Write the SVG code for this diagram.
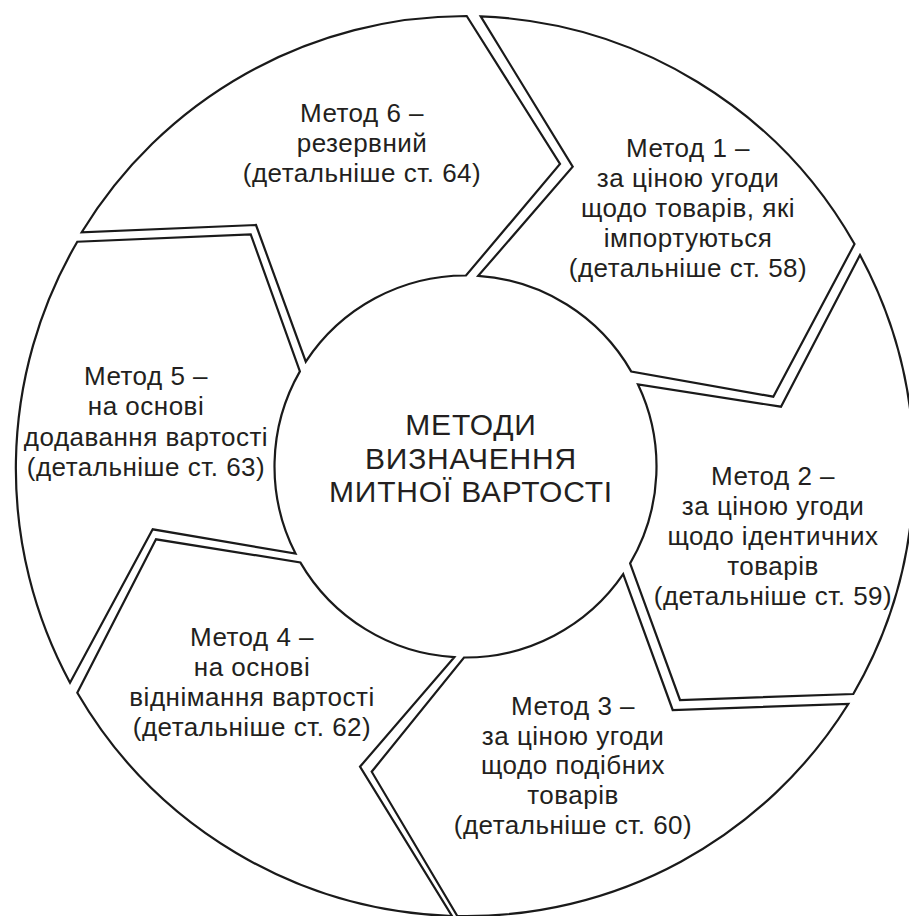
<svg xmlns="http://www.w3.org/2000/svg" width="909" height="916" viewBox="0 0 909 916">
<style>
.seg{fill:#ffffff;stroke:#1a1a1a;stroke-width:2.2;stroke-linejoin:miter}
.t{font-family:"Liberation Sans",Arial,sans-serif;font-size:26px;letter-spacing:0.5px;fill:#231f20;text-anchor:middle}
.c{font-family:"Liberation Sans",Arial,sans-serif;font-size:30px;letter-spacing:0.8px;fill:#231f20;text-anchor:middle}
</style>
<rect width="909" height="916" fill="#ffffff"/>
<g id="method1">
<path class="seg" d="M480.7,16.4 A450,450 0 0 1 854.5,244 L773.3,396.7 L631.3,371.6 A191,191 0 0 0 478.2,275.9 L572.7,166.7 Z"/>
<text class="t"><tspan x="688" y="157">Метод 1 –</tspan><tspan x="688" y="187">за ціною угоди</tspan><tspan x="688" y="217">щодо товарів, які</tspan><tspan x="688" y="247">імпортуються</tspan><tspan x="688" y="277">(детальніше ст. 58)</tspan></text>
</g>
<g id="method2">
<path class="seg" d="M860,255 A450,450 0 0 1 853.3,694 L680,700 L630.1,563.4 A191,191 0 0 0 638,384.5 L781,406.7 Z"/>
<text class="t"><tspan x="773" y="485">Метод 2 –</tspan><tspan x="773" y="515">за ціною угоди</tspan><tspan x="773" y="545">щодо ідентичних</tspan><tspan x="773" y="575">товарів</tspan><tspan x="773" y="605">(детальніше ст. 59)</tspan></text>
</g>
<g id="method3">
<path class="seg" d="M848.3,704 A450,450 0 0 1 457.3,916 L371.7,771.7 L464,657.5 A191,191 0 0 0 623.2,574.2 L672.7,710 Z"/>
<text class="t"><tspan x="573" y="715">Метод 3 –</tspan><tspan x="573" y="744.5">за ціною угоди</tspan><tspan x="573" y="774">щодо подібних</tspan><tspan x="573" y="804">товарів</tspan><tspan x="573" y="834">(детальніше ст. 60)</tspan></text>
</g>
<g id="method4">
<path class="seg" d="M452,916 A450,450 0 0 1 77.3,692.7 L156,539.3 L300.3,562.4 A191,191 0 0 0 454.3,657.2 L360,766.7 Z"/>
<text class="t"><tspan x="252" y="646">Метод 4 –</tspan><tspan x="252" y="676">на основі</tspan><tspan x="252" y="706">віднімання вартості</tspan><tspan x="252" y="736">(детальніше ст. 62)</tspan></text>
</g>
<g id="method5">
<path class="seg" d="M70,682.7 A450,450 0 0 1 77.3,241.7 L250.7,234.3 L299.9,371.4 A191,191 0 0 0 295.5,553.6 L152.7,529.3 Z"/>
<text class="t"><tspan x="146" y="385">Метод 5 –</tspan><tspan x="146" y="415">на основі</tspan><tspan x="146" y="446">додавання вартості</tspan><tspan x="146" y="476">(детальніше ст. 63)</tspan></text>
</g>
<g id="method6">
<path class="seg" d="M81.7,232.3 A450,450 0 0 1 466.7,16 L560,164 L466,275.5 A191,191 0 0 0 305.8,361.7 L256,225 Z"/>
<text class="t"><tspan x="362" y="122">Метод 6 –</tspan><tspan x="362" y="152">резервний</tspan><tspan x="362" y="182">(детальніше ст. 64)</tspan></text>
</g>
<g id="center">
<text class="c"><tspan x="471" y="435">МЕТОДИ</tspan><tspan x="471" y="469">ВИЗНАЧЕННЯ</tspan><tspan x="471" y="502">МИТНОЇ ВАРТОСТІ</tspan></text>
</g>
<g id="connectors"/>
</svg>
